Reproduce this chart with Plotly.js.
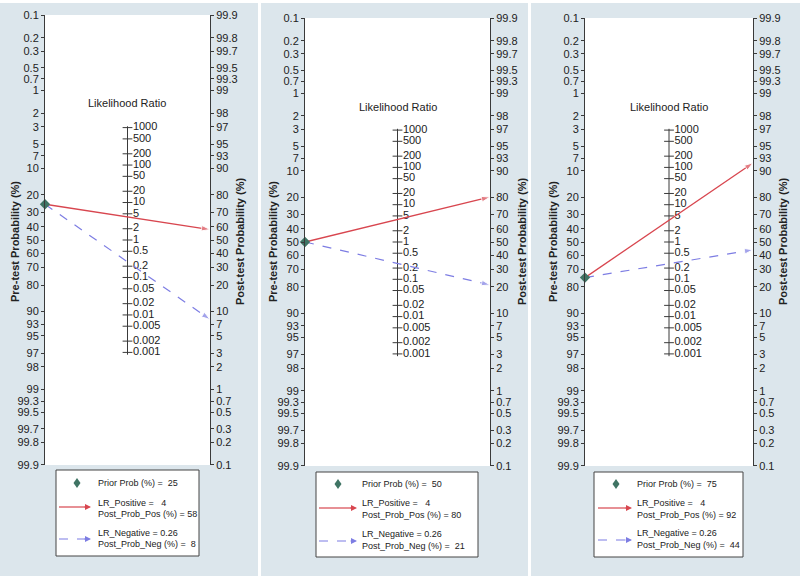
<!DOCTYPE html>
<html><head><meta charset="utf-8">
<script src="https://cdn.plot.ly/plotly-3.0.1.min.js"></script>
<style>html,body{margin:0;padding:0;background:#fff}#chart{width:800px;height:576px}</style>
</head><body><div id="chart"></div>
<script>
// ---- data ----
const priorProb = [25, 50, 75];
const lrPositive = [4, 4, 4];
const postProbPos = [58, 80, 92];
const lrNegative = [0.26, 0.26, 0.26];
const postProbNeg = [8, 21, 44];
const preTicks = [0.1,0.2,0.3,0.5,0.7,1,2,3,5,7,10,20,30,40,50,60,70,80,90,93,95,97,98,99,99.3,99.5,99.7,99.8,99.9];
const postTicks = [99.9,99.8,99.7,99.5,99.3,99,98,97,95,93,90,80,70,60,50,40,30,20,10,7,5,3,2,1,0.7,0.5,0.3,0.2,0.1];
const lrTicks = [1000,500,200,100,50,20,10,5,2,1,0.5,0.2,0.1,0.05,0.02,0.01,0.005,0.002,0.001];

// ---- geometry (pixels) ----
const W = 800, H = 576;
const axLeft = [45, 305, 585], axRight = [210, 490, 753];
const axTop = [15, 18, 18], axBottom = [465, 466, 466];
const preTitleX = [15, 273, 553], postTitleX = [240, 522, 783];
const lrLabelY = [103, 107, 107];
const gapStrips = [[258, 261], [528, 531]];
const legBox = [[56, 470, 199, 556], [316, 472, 478, 557], [594, 472, 743, 557]];
const legDiamond = [[77, 483], [338, 484], [616, 484]];
const legLabelX = [96, 360, 635];
const legRowsY = [[483, 503, 514, 533, 544], [484, 503, 515, 534, 546], [484, 503, 515, 533, 545]];
const legArrowX = [[59, 91], [319, 357], [598, 632]];
const legArrowY = [[507, 539], [508, 541], [508, 540]];

const FONT = '"Liberation Sans", Arial, sans-serif';
const RED = '#d8464f', BLUE = '#7d7de3', GREEN = '#3f7464', BG = '#dce6ec', AXC = '#3a3a3a', TXT = '#222';

const logit = p => Math.log(p / (100 - p));
const R = logit(99.9) * 1.001;
const px = x => x / W, py = y => 1 - y / H;
const NB = '\u00a0';

const data = [];
const layout = {
  width: W, height: H, margin: {l: 0, r: 0, t: 0, b: 0},
  paper_bgcolor: BG, plot_bgcolor: '#ffffff', showlegend: false,
  shapes: [], annotations: []
};

// white separators / top strip
layout.shapes.push({type: 'rect', xref: 'paper', yref: 'paper', layer: 'below', x0: 0, x1: 1, y0: py(3), y1: 1,
  fillcolor: '#ffffff', line: {width: 0}});
gapStrips.forEach(g => layout.shapes.push({type: 'rect', xref: 'paper', yref: 'paper', layer: 'below',
  x0: px(g[0]), x1: px(g[1]), y0: 0, y1: 1, fillcolor: '#ffffff', line: {width: 0}}));

for (let i = 0; i < 3; i++) {
  const xs = i === 0 ? '' : String(i + 1);
  const yL = 2 * i + 1, yR = 2 * i + 2;
  const yn = n => n === 1 ? '' : String(n);
  const mid = (axLeft[i] + axRight[i]) / 2;

  layout['xaxis' + xs] = {domain: [px(axLeft[i]), px(axRight[i])], range: [0, 1], visible: false, fixedrange: true};
  const common = {showgrid: false, zeroline: false, showline: true, linecolor: AXC, linewidth: 1,
    ticks: 'outside', ticklen: 3, tickcolor: AXC, tickfont: {family: FONT, size: 11, color: TXT}, fixedrange: true};
  layout['yaxis' + yn(yL)] = Object.assign({}, common, {
    domain: [py(axBottom[i]), py(axTop[i])], range: [-R, R], anchor: 'x' + xs, side: 'left',
    tickmode: 'array', tickvals: preTicks.map(p => -logit(p)), ticktext: preTicks.map(String)});
  layout['yaxis' + yn(yR)] = Object.assign({}, common, {
    range: [-R, R], anchor: 'x' + xs, overlaying: 'y' + yn(yL), side: 'right',
    tickmode: 'array', tickvals: postTicks.map(p => logit(p)), ticktext: postTicks.map(String)});

  const ax = {xaxis: 'x' + xs, yaxis: 'y' + yn(yL), hoverinfo: 'skip', cliponaxis: false};
  // invisible trace so the right-hand (post-test) axis is drawn
  data.push({type: 'scatter', mode: 'markers', x: [0.5], y: [0], xaxis: 'x' + xs, yaxis: 'y' + yn(yR),
    marker: {opacity: 0, size: 1}, hoverinfo: 'skip'});
  // Likelihood ratio scale (middle axis), positioned by the same logit scale: y = ln(LR)/2
  const lrY = lrTicks.map(l => Math.log(l) / 2);
  data.push(Object.assign({type: 'scatter', mode: 'lines', x: [0.5, 0.5],
    y: [Math.min(...lrY) - 0.07, Math.max(...lrY) + 0.04], line: {color: AXC, width: 1}}, ax));
  data.push(Object.assign({type: 'scatter', mode: 'markers+text', x: lrTicks.map(() => 0.5), y: lrY,
    marker: {symbol: 'line-ew', size: 7, line: {color: AXC, width: 1}},
    text: lrTicks.map(String), textposition: 'middle right', textfont: {family: FONT, size: 11, color: TXT}}, ax));

  // nomogram lines
  data.push(Object.assign({type: 'scatter', x: [0, 1], y: [-logit(priorProb[i]), logit(postProbPos[i])],
    mode: 'lines+markers', line: {color: RED, width: 1.3},
    marker: {symbol: 'arrow', size: [0, 9], color: RED, angleref: 'previous'}}, ax));
  data.push(Object.assign({type: 'scatter', x: [0, 1], y: [-logit(priorProb[i]), logit(postProbNeg[i])],
    mode: 'lines+markers', line: {color: BLUE, width: 1.2, dash: 'dash'},
    marker: {symbol: 'arrow', size: [0, 9], color: BLUE, angleref: 'previous'}}, ax));
  data.push(Object.assign({type: 'scatter', x: [0], y: [-logit(priorProb[i])], mode: 'markers',
    marker: {symbol: 'diamond', size: 8, color: GREEN}}, ax));

  // titles
  const tfont = {family: FONT, size: 11, color: TXT, weight: 'bold'};
  layout.annotations.push({xref: 'paper', yref: 'paper', x: px(preTitleX[i]), y: py(242), text: 'Pre-test Probability (%)',
    textangle: -90, showarrow: false, xanchor: 'center', yanchor: 'middle', font: tfont});
  layout.annotations.push({xref: 'paper', yref: 'paper', x: px(postTitleX[i]), y: py(242), text: 'Post-test Probability (%)',
    textangle: -90, showarrow: false, xanchor: 'center', yanchor: 'middle', font: tfont});
  layout.annotations.push({xref: 'paper', yref: 'paper', x: px(mid), y: py(lrLabelY[i]), text: 'Likelihood Ratio',
    showarrow: false, xanchor: 'center', yanchor: 'middle', font: {family: FONT, size: 11, color: TXT}});

  // legend box
  const b = legBox[i];
  layout.shapes.push({type: 'rect', xref: 'paper', yref: 'paper', x0: px(b[0]), y0: py(b[3]), x1: px(b[2]), y1: py(b[1]),
    fillcolor: '#ffffff', line: {color: '#444', width: 1}});
  const [dx, dy] = legDiamond[i];
  layout.shapes.push({type: 'path', xref: 'paper', yref: 'paper',
    path: `M ${px(dx - 3.5)} ${py(dy)} L ${px(dx)} ${py(dy - 5)} L ${px(dx + 3.5)} ${py(dy)} L ${px(dx)} ${py(dy + 5)} Z`,
    fillcolor: GREEN, line: {width: 0}});
  const [ax0, ax1] = legArrowX[i];
  layout.shapes.push({type: 'line', xref: 'paper', yref: 'paper', x0: px(ax0), x1: px(ax1 - 6), y0: py(legArrowY[i][0]), y1: py(legArrowY[i][0]),
    line: {color: RED, width: 1.2}});
  layout.shapes.push({type: 'line', xref: 'paper', yref: 'paper', x0: px(ax0), x1: px(ax1 - 6), y0: py(legArrowY[i][1]), y1: py(legArrowY[i][1]),
    line: {color: BLUE, width: 1.2, dash: 'dash'}});
  layout.annotations.push({xref: 'paper', yref: 'paper', x: px(ax1), y: py(legArrowY[i][0]), ax: -8, ay: 0, text: '',
    showarrow: true, arrowhead: 2, arrowsize: 1, arrowwidth: 1.2, arrowcolor: RED});
  layout.annotations.push({xref: 'paper', yref: 'paper', x: px(ax1), y: py(legArrowY[i][1]), ax: -8, ay: 0, text: '',
    showarrow: true, arrowhead: 2, arrowsize: 1, arrowwidth: 1.2, arrowcolor: BLUE});

  const rows = [
    'Prior Prob (%) =' + NB + NB + priorProb[i],
    'LR_Positive =' + NB + NB + NB + lrPositive[i],
    'Post_Prob_Pos (%) =' + NB + postProbPos[i],
    'LR_Negative =' + NB + lrNegative[i],
    'Post_Prob_Neg (%) =' + NB + NB + postProbNeg[i]
  ];
  rows.forEach((t, k) => {
    layout.annotations.push({xref: 'paper', yref: 'paper', x: px(legLabelX[i]), y: py(legRowsY[i][k]), text: t,
      showarrow: false, xanchor: 'left', yanchor: 'middle', font: {family: FONT, size: 9, color: TXT}});
  });
}

Plotly.newPlot('chart', data, layout, {staticPlot: true});
</script></body></html>
